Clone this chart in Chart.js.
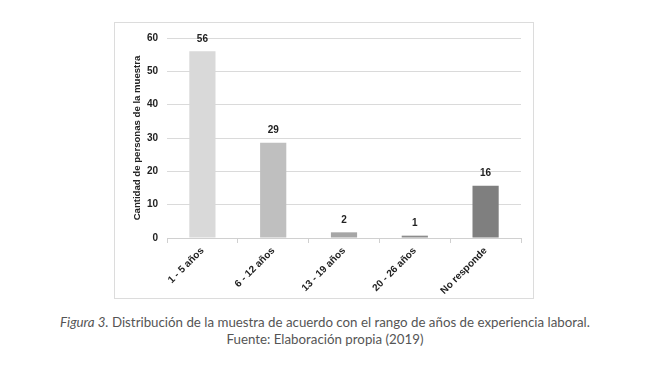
<!DOCTYPE html>
<html>
<head>
<meta charset="utf-8">
<script src="https://cdn.jsdelivr.net/npm/chart.js@4"></script>
<style>
  html, body { margin: 0; padding: 0; background: #fff; }
  body { width: 650px; height: 365px; position: relative; overflow: hidden; }
  #box {
    position: absolute; left: 114px; top: 22px;
    width: 418px; height: 275px;
    border: 1px solid #dcdcdc;
  }
  #box canvas { display: block; }
  .caption {
    position: absolute; left: 0; width: 650px; text-align: center;
    font-family: Lato, 'Open Sans', sans-serif; font-size: 13.3px; color: #555;
  }
</style>
</head>
<body>
<div id="box"><canvas id="chart" width="418" height="275"></canvas></div>
<div class="caption" style="top:314px"><i>Figura 3.</i> Distribución de la muestra de acuerdo con el rango de años de experiencia laboral.</div>
<div class="caption" style="top:331px">Fuente: Elaboración propia (2019)</div>
<script>
'use strict';

// ── Data ───────────────────────────────────────────────────────────────────
const CATEGORIES = ['1 - 5 años', '6 - 12 años', '13 - 19 años', '20 - 26 años', 'No responde'];
const BAR_VALUES = [56, 28.6, 1.7, 0.7, 15.7];
const BAR_LABELS = ['56', '29', '2', '1', '16'];
const BAR_COLOURS = ['#d9d9d9', '#bfbfbf', '#a6a6a6', '#8c8c8c', '#7f7f7f'];
const Y_TITLE = 'Cantidad de personas de la muestra';

const FONT = "'Liberation Sans', Arial, sans-serif";

// draws the count above each bar
const valueLabels = {
    id: 'valueLabels',
    afterDatasetsDraw(chart) {
        const ctx = chart.ctx;
        const meta = chart.getDatasetMeta(0);
        ctx.save();
        ctx.font = 'bold 10px ' + FONT;
        ctx.fillStyle = '#222';
        ctx.textAlign = 'center';
        ctx.textBaseline = 'bottom';
        meta.data.forEach((bar, i) => {
            ctx.fillText(BAR_LABELS[i], bar.x, bar.y - 7);
        });
        ctx.restore();
    },
};

new Chart(document.getElementById('chart'), {
    type: 'bar',
    data: {
        labels: CATEGORIES,
        datasets: [{
            data: BAR_VALUES,
            backgroundColor: BAR_COLOURS,
            borderWidth: 0,
            categoryPercentage: 1,
            barPercentage: 0.37,
        }],
    },
    options: {
        responsive: false,
        animation: false,
        layout: { padding: { top: 14, right: 12, left: 0, bottom: 0 } },
        plugins: {
            legend: { display: false },
            tooltip: { enabled: false },
        },
        scales: {
            x: {
                grid: {
                    drawOnChartArea: false,
                    drawTicks: true,
                    tickLength: 5,
                    color: '#d0d0d0',
                },
                border: { color: '#d0d0d0' },
                ticks: {
                    minRotation: 45,
                    maxRotation: 45,
                    padding: 2,
                    color: '#222',
                    font: { family: FONT, size: 10, weight: 'bold' },
                },
                afterFit: s => { s.height = 60; },
            },
            y: {
                min: 0,
                max: 60,
                ticks: {
                    stepSize: 10,
                    padding: 9,
                    color: '#222',
                    font: { family: FONT, size: 10, weight: 'bold' },
                },
                grid: { color: '#dadada', drawTicks: false },
                border: { display: false },
                title: {
                    display: true,
                    text: Y_TITLE,
                    color: '#222',
                    padding: { top: 17, bottom: 0 },
                    font: { family: FONT, size: 9.6, weight: 'bold' },
                },
                afterFit: s => { s.width = 52; },
            },
        },
    },
    plugins: [valueLabels],
});
</script>
</body>
</html>
